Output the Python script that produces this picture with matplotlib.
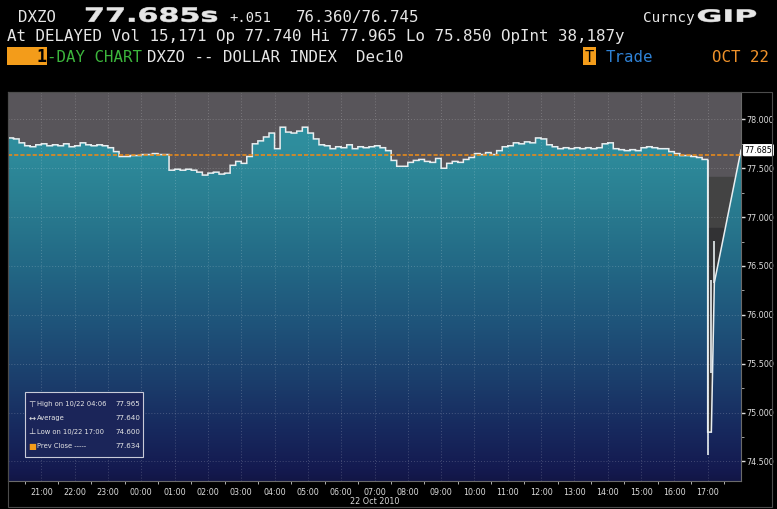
"""
DXZO 1-day chart (Bloomberg GIP style) - 22 Oct 2010
"""
import matplotlib
matplotlib.use('Agg')
import matplotlib.pyplot as plt
import numpy as np
from matplotlib.colors import LinearSegmentedColormap, Normalize
from matplotlib.patches import Rectangle, PathPatch, Polygon
from matplotlib.textpath import TextPath
from matplotlib.font_manager import FontProperties
from matplotlib.transforms import Affine2D, blended_transform_factory

W, H = 777, 509

# 10-minute closes, hours counted from 20:00 on 21 Oct
closes = [
    77.81, 77.80, 77.76, 77.73, 77.72, 77.74, 77.75, 77.73, 77.74, 77.73,
    77.75, 77.72, 77.73, 77.76, 77.74, 77.73, 77.74, 77.73, 77.71, 77.67,
    77.62, 77.62, 77.63, 77.63, 77.64, 77.64, 77.65, 77.64, 77.64, 77.48,
    77.49, 77.48, 77.49, 77.48, 77.46, 77.43, 77.45, 77.46, 77.44, 77.45,
    77.53, 77.57, 77.55, 77.62, 77.75, 77.78, 77.82, 77.86, 77.70, 77.92,
    77.87, 77.86, 77.88, 77.92, 77.86, 77.80, 77.74, 77.73, 77.70, 77.72,
    77.71, 77.74, 77.70, 77.72, 77.71, 77.72, 77.73, 77.71, 77.68, 77.58,
    77.52, 77.52, 77.56, 77.58, 77.59, 77.57, 77.56, 77.60, 77.50, 77.55,
    77.57, 77.56, 77.59, 77.61, 77.65, 77.64, 77.66, 77.64, 77.68, 77.72,
    77.73, 77.76, 77.75, 77.77, 77.76, 77.81, 77.80, 77.74, 77.72, 77.70,
    77.71, 77.70, 77.71, 77.70, 77.71, 77.70, 77.71, 77.75, 77.76, 77.70,
    77.69, 77.68, 77.69, 77.68, 77.71, 77.72, 77.71, 77.70, 77.70, 77.67,
    77.65, 77.63, 77.63, 77.62, 77.61, 77.59,
]
bar_hours = 1 / 6
crash_hour = 21.0

# 17:00 crash and bounce
tail_hours = [21.0, 21.11, 21.2, 22.0]
tail_close = [74.80, 74.80, 76.33, 77.685]
spike_hours = [21.0, 21.11, 21.18]
spike_high = [77.58, 76.36, 76.76]
spike_low = [74.57, 75.40, 76.33]

last_price = 77.685
prev_close = 77.634
ylo, yhi = 74.30, 78.28

hour_ticks = list(range(1, 22))
hour_labels = ['21:00', '22:00', '23:00', '00:00', '01:00', '02:00', '03:00',
               '04:00', '05:00', '06:00', '07:00', '08:00', '09:00', '10:00',
               '11:00', '12:00', '13:00', '14:00', '15:00', '16:00', '17:00']
price_ticks = [74.5, 75.0, 75.5, 76.0, 76.5, 77.0, 77.5, 78.0]

legend_rows = [
    ('\u22a4', 'High on 10/22 04:06', '77.965'),
    ('\u2194', 'Average', '77.640'),
    ('\u22a5', 'Low on 10/22 17:00', '74.600'),
    ('\u25a0', 'Prev Close -----', '77.634'),
]

# gradient stops for the area under the price
blue_stops = [(74.30, '#121646'), (74.41, '#141a50'), (74.82, '#17295e'),
              (75.33, '#1b3e6c'), (75.95, '#1f557b'), (76.56, '#236a86'),
              (77.17, '#2a7e91'), (77.69, '#2e8c9c'), (78.28, '#3097a6')]

MONO = 'DejaVu Sans Mono'
WHITE = '#e6e6e6'


def px(x, y):
    """pixel (from top-left) -> figure fraction"""
    return x / W, 1 - y / H


def wide_text(fig, s, x0, x1, base, top, color):
    """bold text stretched to fit a pixel box (Bloomberg's wide digits)"""
    fp = FontProperties(family='DejaVu Sans', weight='bold')
    tp = TextPath((0, 0), s, size=1, prop=fp)
    cap = TextPath((0, 0), 'H', size=1, prop=fp).get_extents().height
    ext = tp.get_extents()
    sx = (x1 - x0) / ext.width
    sy = (base - top) / cap
    tr = (Affine2D().translate(-ext.x0, 0).scale(sx, sy)
          .translate(x0, H - base).scale(1 / fig.dpi) + fig.dpi_scale_trans)
    fig.add_artist(PathPatch(tp, transform=tr, fc=color, ec=color, lw=0.4))


fig = plt.figure(figsize=(W / 100, H / 100), dpi=100, facecolor='black')

# ---- header ----
fig.text(*px(18, 21.7), 'DXZO', family=MONO, fontsize=11.3, color=WHITE, va='baseline')
wide_text(fig, '77.685s', 86, 217, 21.7, 7.5, WHITE)
fig.text(*px(229, 21.7), '+.051', family=MONO, fontsize=10, color=WHITE, va='baseline')
fig.text(*px(296, 21.7), '76.360/76.745', family=MONO, fontsize=11.3, color=WHITE, va='baseline')
fig.text(*px(643, 21.7), 'Curncy', family=MONO, fontsize=10.3, color=WHITE, va='baseline')
wide_text(fig, 'GIP', 698, 756, 21.7, 9.5, WHITE)

fig.text(*px(7, 40.5), 'At DELAYED Vol 15,171 Op 77.740 Hi 77.965 Lo 75.850 OpInt 38,187y',
         family=MONO, fontsize=11.45, color=WHITE, va='baseline')

fig.add_artist(Rectangle(px(7, 65), 40 / W, 18 / H, transform=fig.transFigure,
                         fc='#f39c1a', ec='none'))
fig.text(*px(46, 61.7), '1', family=MONO, fontsize=12, weight='bold',
         color='black', va='baseline', ha='right')
fig.text(*px(47, 61.7), '-DAY CHART', family=MONO, fontsize=11.3, color='#3cb53c', va='baseline')
fig.text(*px(147, 61.7), 'DXZO -- DOLLAR INDEX  Dec10', family=MONO, fontsize=11.3,
         color=WHITE, va='baseline')
fig.add_artist(Rectangle(px(583, 65), 13 / W, 18 / H, transform=fig.transFigure,
                         fc='#f39c1a', ec='none'))
fig.text(*px(589.5, 61.7), 'T', family=MONO, fontsize=11, color='black',
         va='baseline', ha='center')
fig.text(*px(606, 61.7), 'Trade', family=MONO, fontsize=11.3, color='#2f82d6', va='baseline')
fig.text(*px(712, 61.7), 'OCT 22', family=MONO, fontsize=11.3, color='#f0922a', va='baseline')

# ---- chart ----
ax = fig.add_axes([8 / W, 1 - 481 / H, 733 / W, 389 / H])
ax.set_xlim(0, 22)
ax.set_ylim(ylo, yhi)

# banded gray background above the price
ax.axhspan(77.41, yhi, color='#58555a', zorder=0)
ax.axhspan(76.89, 77.41, color='#434343', zorder=0)
ax.axhspan(ylo, 76.89, color='#323234', zorder=0)

# price outline: 10-min steps up to the crash, then the 17:00 tail
t = np.arange(len(closes)) * bar_hours
step_x = np.repeat(np.append(t, crash_hour), 2)[1:-1]
step_y = np.repeat(closes, 2)
line_x = np.concatenate([step_x, tail_hours])
line_y = np.concatenate([step_y, tail_close])

poly = Polygon(np.column_stack([np.append(line_x, [22, 0]), np.append(line_y, [ylo, ylo])]),
               closed=True, fc='none', ec='none', transform=ax.transData)
ax.add_patch(poly)

bcmap = LinearSegmentedColormap.from_list(
    'dxzo', [((p - ylo) / (yhi - ylo), c) for p, c in blue_stops])
grad = np.linspace(yhi, ylo, 500).reshape(-1, 1)
img = ax.imshow(grad, extent=[0, 22, ylo, yhi], aspect='auto', cmap=bcmap,
                norm=Normalize(ylo, yhi), origin='upper', zorder=1, interpolation='bilinear')
img.set_clip_path(poly)

ax.plot(line_x, line_y, color='#e8eef0', lw=1.1, zorder=4, solid_joinstyle='miter')
ax.vlines(spike_hours, spike_low, spike_high, color='#e8eef0', lw=1.2, zorder=4)

# grid + previous close
for h in hour_ticks:
    ax.axvline(h, color='white', alpha=0.2, lw=0.7, ls=(0, (1, 2)), zorder=3)
for p in price_ticks:
    ax.axhline(p, color='white', alpha=0.2, lw=0.7, ls=(0, (1, 2)), zorder=3)
ax.axhline(prev_close, color='#e5891c', lw=1.2, ls=(0, (2.5, 1.2)), zorder=5)

# axes styling
for sp in ax.spines.values():
    sp.set_color('#6a6a6a')
    sp.set_linewidth(0.8)
ax.yaxis.tick_right()
ax.set_yticks(price_ticks)
ax.set_yticklabels([f'{p:.3f}' for p in price_ticks])
ax.set_yticks(np.arange(74.5, 78.01, 0.25), minor=True)
ax.tick_params(axis='y', which='major', colors='#dcdcdc', labelsize=5.8,
               length=3, width=1, pad=1)
ax.tick_params(axis='y', which='minor', colors='#bbbbbb', length=2, width=0.6)
ax.set_xticks(hour_ticks)
ax.set_xticklabels(hour_labels)
ax.set_xticks(np.arange(0.5, 22, 1.0), minor=True)
ax.tick_params(axis='x', which='major', colors='#dcdcdc', labelsize=5.8, length=0, pad=5)
ax.tick_params(axis='x', which='minor', colors='#cccccc', length=2.5, width=0.6)

# last price tag
ax.annotate(f'{last_price:.3f}', xy=(1.0, last_price),
            xycoords=blended_transform_factory(ax.transAxes, ax.transData),
            xytext=(2.5, 0), textcoords='offset points', va='center', ha='left',
            fontsize=5.8, color='black',
            bbox=dict(boxstyle='round,pad=0.2', fc='white', ec='none'), zorder=10)

# legend box
ax.add_patch(Rectangle(((25 - 8) / 733, (481 - 457) / 389), 118 / 733, 65 / 389,
                       transform=ax.transAxes, fc='#1b2559', ec='#c8cad8', lw=0.8, zorder=8))
for i, (sym, label, val) in enumerate(legend_rows):
    y = 1 - (404 + i * 14 - 92) / 389
    ax.text((32 - 8) / 733, y, sym, transform=ax.transAxes, fontsize=6, va='center',
            ha='center', color='#f39c1a' if i == 3 else WHITE, zorder=9)
    ax.text((37 - 8) / 733, y, label, transform=ax.transAxes, fontsize=4.9,
            va='center', color=WHITE, zorder=9)
    ax.text((140 - 8) / 733, y, val, transform=ax.transAxes, fontsize=5.1,
            va='center', ha='right', color=WHITE, zorder=9)

fig.text(*px(375, 501), '22 Oct 2010', fontsize=5.8, color='#d8d8d8', ha='center', va='center')

# outer frame around chart + price scale
fig.add_artist(Rectangle(px(8, 507), 764 / W, 415 / H, transform=fig.transFigure,
                         fill=False, ec='#4c4c4c', lw=0.8))

fig.savefig('out.png', dpi=100, facecolor='black')
plt.close(fig)
